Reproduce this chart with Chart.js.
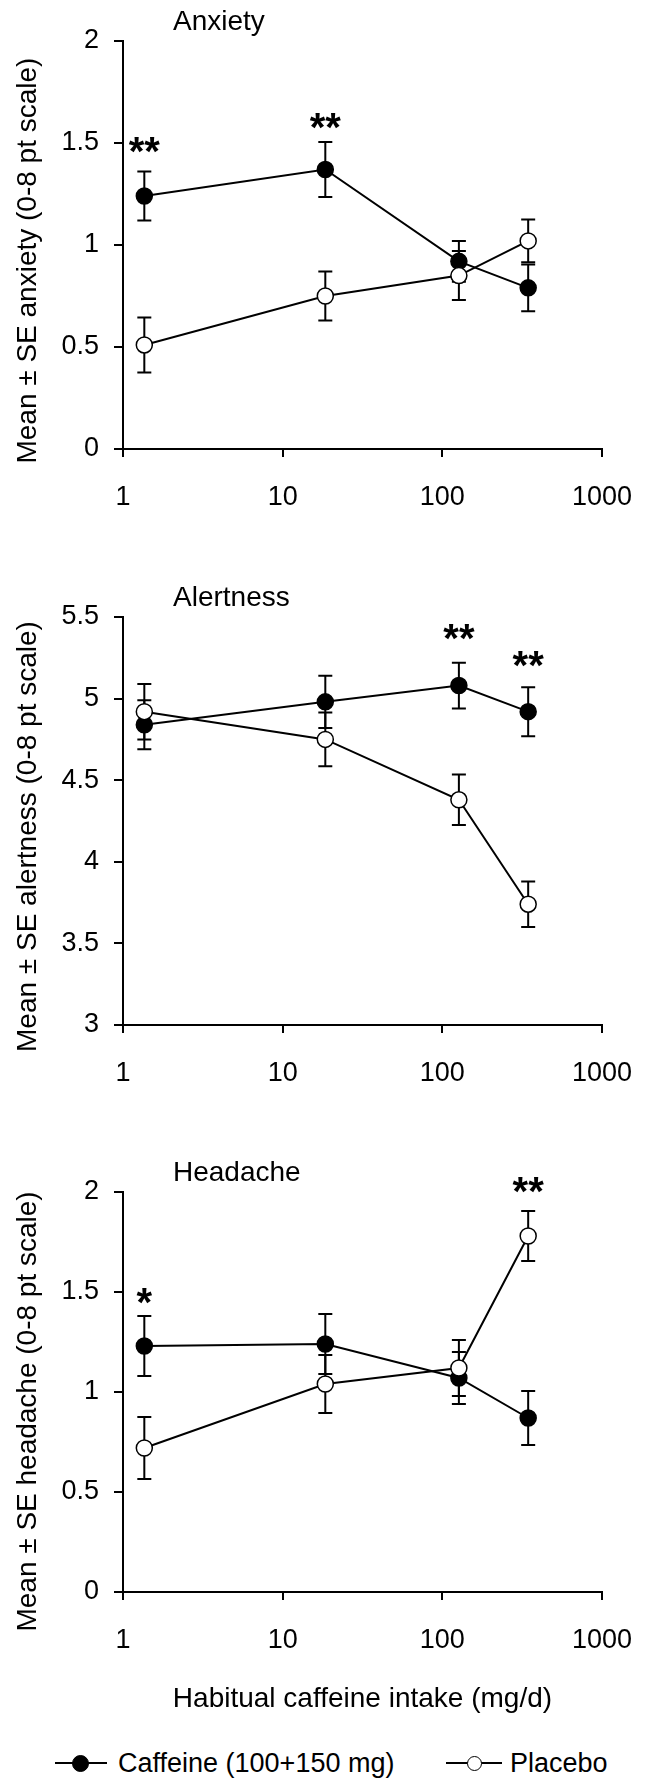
<!DOCTYPE html>
<html>
<head>
<meta charset="utf-8">
<script src="https://cdn.jsdelivr.net/npm/chart.js@4.4.1/dist/chart.umd.min.js"></script>
<style>
  html, body { margin: 0; padding: 0; background: #fff; }
  body { width: 656px; height: 1781px; position: relative; overflow: hidden;
         font-family: "Liberation Sans", Arial, sans-serif; color: #000; }
  .panel { position: absolute; left: 0; width: 656px; }
  .panel canvas { display: block; }
  .lg-line { position: absolute; height: 2px; background: #000; }
  .lg-dot { position: absolute; border-radius: 50%; box-sizing: border-box; border: 1.5px solid #000; }
  .lg-text { position: absolute; font-size: 27px; line-height: 32px; height: 32px; white-space: nowrap; }
</style>
</head>
<body>
<div class="panel" style="top:0px"><canvas id="c1" width="656" height="520"></canvas></div>
<div class="panel" style="top:560px"><canvas id="c2" width="656" height="536"></canvas></div>
<div class="panel" style="top:1150px"><canvas id="c3" width="656" height="566"></canvas></div>
<div id="legend"></div>
<script>
// ---------------- data ----------------
const seriesNames = ['Caffeine (100+150 mg)', 'Placebo'];
const xIntake = [1.36, 18.5, 127, 345];
const xTickValues = [1, 10, 100, 1000];
const xTickLabels = ['1', '10', '100', '1000'];
const xAxisTitle = 'Habitual caffeine intake (mg/d)';

const anxietyTitle = 'Anxiety';
const anxietyYTitle = 'Mean \u00b1 SE anxiety (0-8 pt scale)';
const anxietyCaffeine = [1.24, 1.37, 0.92, 0.79];
const anxietyCaffeineSE = [0.12, 0.135, 0.10, 0.115];
const anxietyPlacebo = [0.51, 0.75, 0.85, 1.02];
const anxietyPlaceboSE = [0.135, 0.12, 0.12, 0.105];
const anxietyYTicks = [0, 0.5, 1, 1.5, 2];
const anxietyYTickLabels = ['0', '0.5', '1', '1.5', '2'];
const anxietySigIndex = [0, 1];
const anxietySigLabel = ['**', '**'];
const anxietySigY = [1.49, 1.61];

const alertTitle = 'Alertness';
const alertYTitle = 'Mean \u00b1 SE alertness (0-8 pt scale)';
const alertCaffeine = [4.84, 4.98, 5.08, 4.92];
const alertCaffeineSE = [0.15, 0.16, 0.14, 0.15];
const alertPlacebo = [4.92, 4.75, 4.38, 3.74];
const alertPlaceboSE = [0.17, 0.165, 0.155, 0.14];
const alertYTicks = [3, 3.5, 4, 4.5, 5, 5.5];
const alertYTickLabels = ['3', '3.5', '4', '4.5', '5', '5.5'];
const alertSigIndex = [2, 3];
const alertSigLabel = ['**', '**'];
const alertSigY = [5.41, 5.24];

const headTitle = 'Headache';
const headYTitle = 'Mean \u00b1 SE headache (0-8 pt scale)';
const headCaffeine = [1.23, 1.24, 1.07, 0.87];
const headCaffeineSE = [0.15, 0.15, 0.13, 0.135];
const headPlacebo = [0.72, 1.04, 1.12, 1.78];
const headPlaceboSE = [0.155, 0.145, 0.14, 0.125];
const headYTicks = [0, 0.5, 1, 1.5, 2];
const headYTickLabels = ['0', '0.5', '1', '1.5', '2'];
const headSigIndex = [0, 3];
const headSigLabel = ['*', '**'];
const headSigY = [1.48, 2.035];

// ---------------- plugins ----------------
const FONT = '"Liberation Sans", Arial, sans-serif';

const errorBars = {
  id: 'errorBars',
  beforeDatasetsDraw(chart) {
    const { ctx, scales: { x, y } } = chart;
    ctx.save();
    ctx.strokeStyle = '#000';
    ctx.lineWidth = 2;
    chart.data.datasets.forEach(ds => {
      ds.data.forEach((p, i) => {
        const px = x.getPixelForValue(p.x);
        const yt = y.getPixelForValue(p.y + ds.se[i]);
        const yb = y.getPixelForValue(p.y - ds.se[i]);
        ctx.beginPath();
        ctx.moveTo(px, yt); ctx.lineTo(px, yb);
        ctx.moveTo(px - 7, yt); ctx.lineTo(px + 7, yt);
        ctx.moveTo(px - 7, yb); ctx.lineTo(px + 7, yb);
        ctx.stroke();
      });
    });
    ctx.restore();
  }
};

const panelText = {
  id: 'panelText',
  afterDraw(chart, args, opts) {
    const { ctx, chartArea, scales: { x, y } } = chart;
    ctx.save();
    ctx.fillStyle = '#000';
    ctx.font = '28px ' + FONT;
    ctx.textAlign = 'left';
    ctx.textBaseline = 'middle';
    ctx.fillText(opts.title, chartArea.left + 50, chartArea.top - 19);
    ctx.font = 'bold 40px ' + FONT;
    ctx.textAlign = 'center';
    ctx.textBaseline = 'alphabetic';
    opts.sigIndex.forEach((idx, k) => {
      const px = x.getPixelForValue(xIntake[idx]);
      const py = y.getPixelForValue(opts.sigY[k]);
      ctx.fillText(opts.sigLabel[k], px, py + 20);
    });
    ctx.restore();
  }
};

// ---------------- chart builder ----------------
function makeChart(id, c) {
  const pts = arr => xIntake.map((xv, i) => ({ x: xv, y: arr[i] }));
  return new Chart(document.getElementById(id), {
    type: 'line',
    data: {
      datasets: [
        { label: seriesNames[0], data: pts(c.caf), se: c.cafSE, order: 1,
          borderColor: '#000', borderWidth: 2, pointRadius: 8, pointHoverRadius: 8,
          pointBackgroundColor: '#000', pointBorderColor: '#000', pointBorderWidth: 1.5,
          fill: false, tension: 0, clip: false },
        { label: seriesNames[1], data: pts(c.pla), se: c.plaSE, order: 0,
          borderColor: '#000', borderWidth: 2, pointRadius: 8, pointHoverRadius: 8,
          pointBackgroundColor: '#fff', pointBorderColor: '#000', pointBorderWidth: 1.5,
          fill: false, tension: 0, clip: false }
      ]
    },
    options: {
      responsive: false,
      animation: false,
      events: [],
      layout: { padding: { top: c.padTop, right: 34, left: 0, bottom: 0 } },
      plugins: {
        legend: { display: false },
        tooltip: { enabled: false },
        panelText: { title: c.title, sigIndex: c.sigIndex, sigLabel: c.sigLabel, sigY: c.sigY }
      },
      scales: {
        x: {
          type: 'logarithmic', min: 1, max: 1000,
          afterBuildTicks: s => { s.ticks = xTickValues.map(v => ({ value: v })); },
          afterFit: s => { s.height = c.xHeight; },
          ticks: { callback: (v, i) => xTickLabels[i], color: '#000', padding: 24,
                   maxRotation: 0, autoSkip: false, font: { size: 27, family: FONT } },
          grid: { display: true, drawOnChartArea: false, drawTicks: true, tickLength: 8,
                  color: '#000', lineWidth: 2 },
          border: { display: true, color: '#000', width: 2 },
          title: { display: !!c.xTitle, text: c.xTitle || '', color: '#000',
                   font: { size: 28, family: FONT }, padding: { top: 0, bottom: 0 } }
        },
        y: {
          min: c.yTicks[0], max: c.yTicks[c.yTicks.length - 1],
          afterBuildTicks: s => { s.ticks = c.yTicks.map(v => ({ value: v })); },
          afterFit: s => { s.width = 123; },
          ticks: { callback: (v, i) => c.yTickLabels[i], color: '#000', padding: 15,
                   autoSkip: false, font: { size: 27, family: FONT } },
          grid: { display: true, drawOnChartArea: false, drawTicks: true, tickLength: 9,
                  color: '#000', lineWidth: 2 },
          border: { display: true, color: '#000', width: 2 },
          title: { display: true, text: c.yTitle + '\u00a0'.repeat(c.yShift), color: '#000',
                   font: { size: 28, family: FONT }, padding: { top: 11, bottom: 0 } }
        }
      }
    },
    plugins: [errorBars, panelText]
  });
}

makeChart('c1', { caf: anxietyCaffeine, cafSE: anxietyCaffeineSE, pla: anxietyPlacebo, plaSE: anxietyPlaceboSE,
  yTicks: anxietyYTicks, yTickLabels: anxietyYTickLabels, title: anxietyTitle, yTitle: anxietyYTitle, yShift: 4,
  sigIndex: anxietySigIndex, sigLabel: anxietySigLabel, sigY: anxietySigY, padTop: 41, xHeight: 71 });
makeChart('c2', { caf: alertCaffeine, cafSE: alertCaffeineSE, pla: alertPlacebo, plaSE: alertPlaceboSE,
  yTicks: alertYTicks, yTickLabels: alertYTickLabels, title: alertTitle, yTitle: alertYTitle, yShift: 4,
  sigIndex: alertSigIndex, sigLabel: alertSigLabel, sigY: alertSigY, padTop: 57, xHeight: 71 });
makeChart('c3', { caf: headCaffeine, cafSE: headCaffeineSE, pla: headPlacebo, plaSE: headPlaceboSE,
  yTicks: headYTicks, yTickLabels: headYTickLabels, title: headTitle, yTitle: headYTitle, yShift: 5,
  sigIndex: headSigIndex, sigLabel: headSigLabel, sigY: headSigY, padTop: 42, xHeight: 124, xTitle: xAxisTitle });

// ---------------- legend (HTML) ----------------
(function () {
  const lg = document.getElementById('legend');
  const items = [
    { name: seriesNames[0], lineL: 55, lineW: 52, dotC: 80, dotD: 17, fill: '#000', textL: 118 },
    { name: seriesNames[1], lineL: 446, lineW: 56, dotC: 474, dotD: 15, fill: '#fff', textL: 510 }
  ];
  const cy = 1763;
  items.forEach(it => {
    const ln = document.createElement('div');
    ln.className = 'lg-line';
    ln.style.left = it.lineL + 'px'; ln.style.width = it.lineW + 'px'; ln.style.top = (cy - 1) + 'px';
    lg.appendChild(ln);
    const dot = document.createElement('div');
    dot.className = 'lg-dot';
    dot.style.width = it.dotD + 'px'; dot.style.height = it.dotD + 'px';
    dot.style.left = (it.dotC - it.dotD / 2) + 'px'; dot.style.top = (cy - it.dotD / 2) + 'px';
    dot.style.background = it.fill;
    lg.appendChild(dot);
    const tx = document.createElement('div');
    tx.className = 'lg-text';
    tx.textContent = it.name;
    tx.style.left = it.textL + 'px'; tx.style.top = (cy - 16) + 'px';
    lg.appendChild(tx);
  });
})();
</script>
</body>
</html>
